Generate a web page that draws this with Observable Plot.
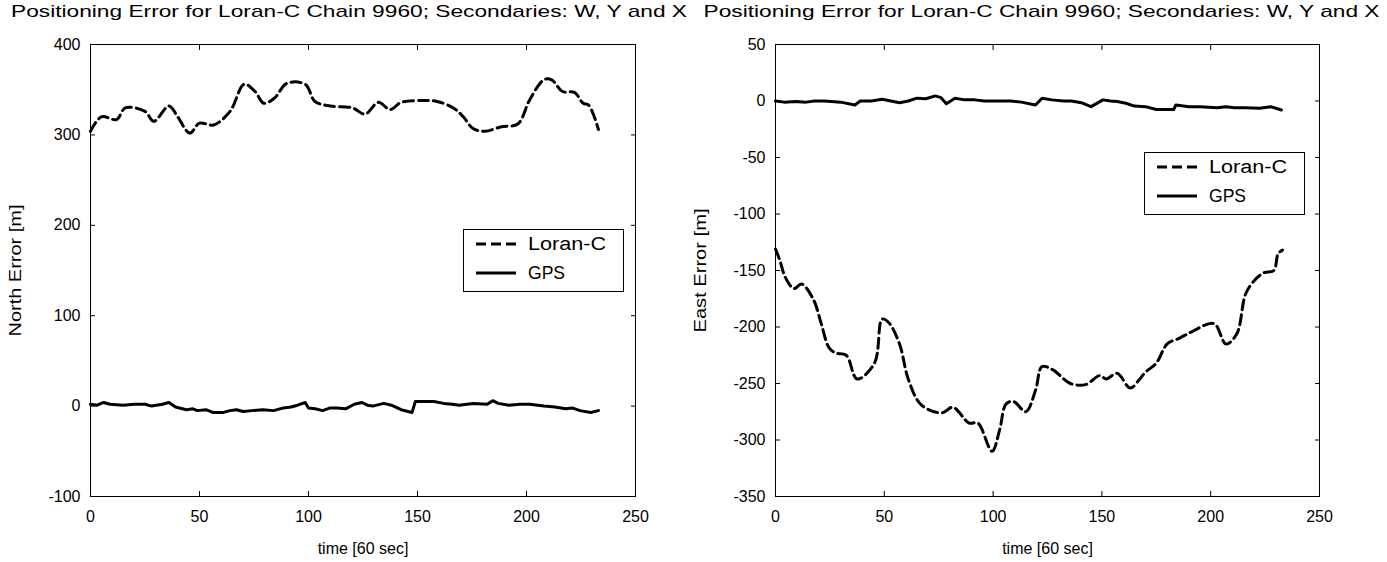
<!DOCTYPE html>
<html><head><meta charset="utf-8">
<script src="https://cdn.jsdelivr.net/npm/d3@7"></script>
<script src="https://cdn.jsdelivr.net/npm/@observablehq/plot@0.6"></script>
<style>
body{margin:0;background:#fff;width:1387px;height:562px;overflow:hidden;position:relative;font-family:"Liberation Sans",Arial,sans-serif;}
.panel{position:absolute;top:0;}
.legend{position:absolute;}
</style></head><body>
<div id="left" class="panel" style="left:0px"></div>
<div id="right" class="panel" style="left:693px"></div>
<script>
const title = "Positioning Error for Loran-C Chain 9960; Secondaries: W, Y and X";
const xLabel = "time [60 sec]";
const northLabel = "North Error [m]";
const eastLabel = "East Error [m]";
const seriesNames = ["Loran-C", "GPS"];
const xTicks = [0, 50, 100, 150, 200, 250];
const northTicks = [-100, 0, 100, 200, 300, 400];
const eastTicks = [-350, -300, -250, -200, -150, -100, -50, 0, 50];

const northLoranT = [0,5,12,16,25,29,36,40,45.5,50,56.5,64,70.5,75.5,79.5,84.5,90,98.5,103,110,120,126,132,137.5,142.5,152.5,159,167,171,175.5,181,188.5,196,201.5,208,211.5,216.5,222,226,228.5,233];
const northLoranV = [304,320,317,330,326,315,332,320,302,313,311,326,356,348,335,341,357,356,337,332,330,323,336,328,336,338,337,329,320,307,304,309,312,339,361,361,348,347,335,333,306];
const northGpsT = [0,3,6,9,15,20,25,28,33,36,39,44,47,49,53,56,61,64,67,70,74,79,84,88.5,92,95,98.5,100,103,106.5,110,113,117,121,124.5,127,129.5,134.5,138,142.5,147.5,149,153,157.5,162,166,169,175.5,182,184.5,187,192,197,201.5,208,213,218,221,224.5,229.5,233];
const northGpsV = [2,1,4,2,1,2,2,0,2,4,-1,-4,-3,-5,-4,-7,-7,-5,-4,-6,-5,-4,-5,-2,-1,1,4,-2,-3,-5,-2,-2,-3,2,4,1,0,3,1,-4,-7,5,5,5,3,2,1,3,2,6,3,1,2,2,0,-1,-3,-2,-5,-7,-5];

const eastLoranT = [0,2,4.5,8.5,12,17.5,21,24.5,27.5,32.5,37.5,45.5,49,52,57,61,67,76.5,81.5,89,93,99.5,103,106,109.5,115,119.5,122.5,127.5,135.5,142.5,149,152,157,163,167,170,175,180,185.5,191.5,201.5,207,212,216,220,224.5,229,231,233];
const eastLoranV = [-131,-141,-156,-166,-162,-176,-197,-218,-223,-225,-246,-232,-193,-196,-215,-246,-269,-276,-271,-285,-285,-310,-291,-268,-266,-275,-256,-235,-238,-250,-251,-243,-246,-241,-254,-247,-240,-232,-215,-210,-204,-197,-215,-206,-171,-159,-152,-150,-135,-132];
const eastGpsT = [0,4,9.5,14,18,22.5,30,36.5,39,44,49,53,57,61,65,69,73.5,76,78.5,82.5,87,91.5,96,100,104,108,113,119.5,122.5,127,132.5,136,140.5,145,150.5,154,157,161,165,170,175,179,183,184,190,195,203,207,211,216,222.5,227.5,232.5];
const eastGpsV = [0,-1,-0.5,-1,0,0,-1,-3.5,0,0,1.5,0,-1.5,0,2.5,2,4.5,3,-2.5,2.5,1,1,0,0,0,0,-1,-3.5,2.5,1,0,0,-1.5,-5,1,0,-0.5,-2,-4.5,-5,-7.5,-7.5,-7.5,-3.5,-5,-5,-6,-5,-6,-6,-6.5,-5,-8];

const zip = (ts, vs) => ts.map((t, i) => ({t, v: vs[i]}));
const FONT = '"Liberation Sans", Arial, sans-serif';

function stretch(root, str, len) {
  d3.select(root).selectAll("text").filter(function() { return this.textContent === str; })
    .attr("textLength", len).attr("lengthAdjust", "spacingAndGlyphs");
}

function panel({width, marginLeft, marginRight, yDomain, yTicks, yLabel, yLabelLen, titleDx, loran, gps}) {
  const noText = () => "";
  const svg = Plot.plot({
    width, height: 562,
    marginTop: 44, marginBottom: 66, marginLeft, marginRight,
    x: {domain: [0, 250]},
    y: {domain: yDomain},
    style: {fontFamily: FONT, fontSize: "16px", color: "black", background: "none", overflow: "visible"},
    marks: [
      Plot.line(loran, {x: "t", y: "v", stroke: "black", strokeWidth: 3, strokeDasharray: "10,5", curve: "catmull-rom"}),
      Plot.line(gps, {x: "t", y: "v", stroke: "black", strokeWidth: 3, curve: "linear"}),
      Plot.frame({stroke: "black", strokeWidth: 1}),
      Plot.axisX(xTicks, {anchor: "bottom", tickSize: 0, tickPadding: 14, label: null, tickFormat: d => String(d), fontSize: 16}),
      Plot.axisX(xTicks, {anchor: "bottom", tickSize: -5, tickFormat: noText, label: null}),
      Plot.axisX(xTicks, {anchor: "top", tickSize: -5, tickFormat: noText, label: null}),
      Plot.axisY(yTicks, {anchor: "left", tickSize: 0, tickPadding: 10, label: null, tickFormat: d => String(d), fontSize: 16}),
      Plot.axisY(yTicks, {anchor: "left", tickSize: -5, tickFormat: noText, label: null}),
      Plot.axisY(yTicks, {anchor: "right", tickSize: -5, tickFormat: noText, label: null}),
      Plot.text([title], {frameAnchor: "top", dy: -40, dx: titleDx, lineAnchor: "top", text: d => d, fontSize: 17}),
      Plot.text([xLabel], {frameAnchor: "bottom", dy: 57, lineAnchor: "bottom", text: d => d, fontSize: 16}),
      Plot.text([yLabel], {frameAnchor: "left", dx: -75, rotate: -90, textAnchor: "middle", lineAnchor: "middle", text: d => d, fontSize: 17})
    ]
  });
  stretch(svg, title, 676);
  stretch(svg, yLabel, yLabelLen);
  return svg;
}

function legend(left, top) {
  const svg = d3.create("svg").attr("width", 161).attr("height", 63)
    .attr("class", "legend").style("left", left + "px").style("top", top + "px");
  svg.append("rect").attr("x", 0.5).attr("y", 0.5).attr("width", 160).attr("height", 62)
    .attr("fill", "white").attr("stroke", "black");
  const rows = [{y: 15, dash: "10,5", len: 78}, {y: 44, dash: null, len: 37}];
  rows.forEach((r, i) => {
    svg.append("line").attr("x1", 13).attr("x2", 53).attr("y1", r.y).attr("y2", r.y)
      .attr("stroke", "black").attr("stroke-width", 3).attr("stroke-dasharray", r.dash);
    svg.append("text").attr("x", 65).attr("y", r.y).attr("dy", "0.35em")
      .attr("font-family", FONT).attr("font-size", 18)
      .attr("textLength", r.len).attr("lengthAdjust", "spacingAndGlyphs").text(seriesNames[i]);
  });
  return svg.node();
}

const L = document.getElementById("left");
L.appendChild(panel({width: 693, marginLeft: 90, marginRight: 58, yDomain: [-100, 400], yTicks: northTicks, yLabel: northLabel, yLabelLen: 132, titleDx: -14,
  loran: zip(northLoranT, northLoranV), gps: zip(northGpsT, northGpsV)}));
L.appendChild(legend(463, 229));

const R = document.getElementById("right");
R.appendChild(panel({width: 694, marginLeft: 82, marginRight: 68, yDomain: [-350, 50], yTicks: eastTicks, yLabel: eastLabel, yLabelLen: 124, titleDx: -6,
  loran: zip(eastLoranT, eastLoranV), gps: zip(eastGpsT, eastGpsV)}));
R.appendChild(legend(451, 152));
</script>
</body></html>
